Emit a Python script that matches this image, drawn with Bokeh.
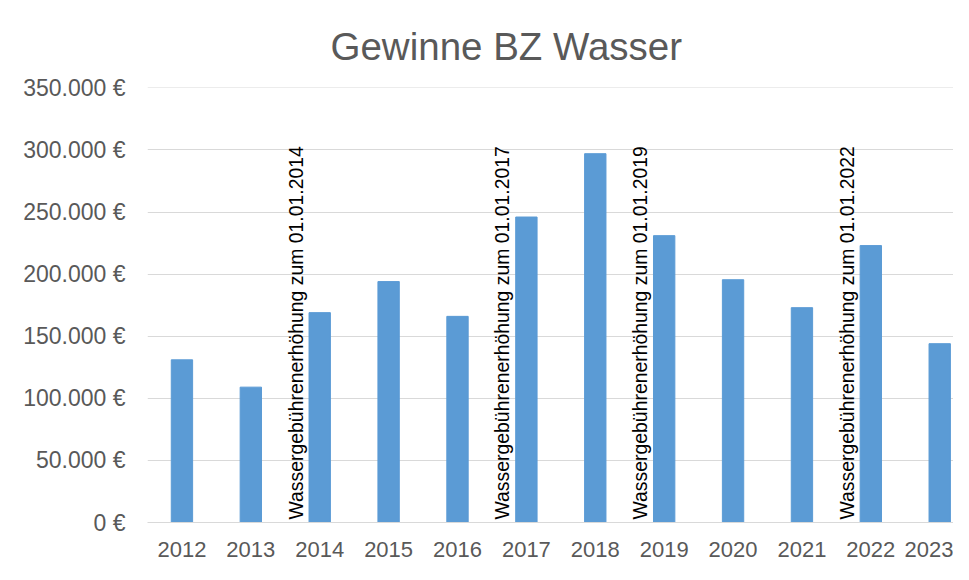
from bokeh.plotting import figure
from bokeh.models import FixedTicker, Range1d, ColumnDataSource
from bokeh.embed import file_html
from bokeh.resources import INLINE
from bokeh.core.properties import value

# ---- data ----
years = [2012, 2013, 2014, 2015, 2016, 2017, 2018, 2019, 2020, 2021, 2022, 2023]
profits = [131000, 109000, 169000, 194000, 166000, 246000, 297000, 231000, 195500, 173000, 223000, 144000]
note_years = [2014, 2017, 2019, 2022]
note_texts = ["Wassergebührenerhöhung zum 01.01.%d" % y for y in note_years]
y_ticks = [0, 50000, 100000, 150000, 200000, 250000, 300000, 350000]
title_text = "Gewinne BZ Wasser"

FONT = "Liberation Sans"

p = figure(width=953, height=564, output_backend="svg", toolbar_location=None,
           x_range=Range1d(years[0] - 0.5, years[-1] + 0.2),
           y_range=Range1d(0, 350300),
           min_border_left=147, min_border_right=0, min_border_top=87, min_border_bottom=42)

p.title.text = title_text
p.title.text_font = FONT
p.title.text_font_size = "38.5px"
p.title.text_font_style = "normal"
p.title.text_color = "#595959"
p.title.align = "left"
p.title.offset = 183
p.title.standoff = 40

p.outline_line_color = None
p.background_fill_color = "white"
p.border_fill_color = "white"

src = ColumnDataSource(dict(x=years, top=profits))
p.vbar(x="x", top="top", width=0.31, bottom=0, source=src,
       fill_color="#5B9BD5", line_color="#5B9BD5", line_width=1)

nsrc = ColumnDataSource(dict(x=[y - 0.35 for y in note_years], y=[0] * len(note_years), t=note_texts))
p.text(x="x", y="y", text="t", source=nsrc, angle=1.5707963, text_align="left",
       text_baseline="middle", text_font=value(FONT), text_font_size="19.4px",
       text_color="#000000", y_offset=-3)

# axes
p.xaxis.ticker = FixedTicker(ticks=years)
p.xaxis.major_label_overrides = {y: str(y) for y in years}
p.xaxis.major_tick_line_color = None
p.xaxis.minor_tick_line_color = None
p.xaxis.axis_line_color = "#D9D9D9"
p.xaxis.axis_line_width = 1
p.xaxis.major_label_text_font = FONT
p.xaxis.major_label_text_font_size = "22px"
p.xaxis.major_label_text_color = "#595959"
p.xaxis.major_label_standoff = 13

p.yaxis.ticker = FixedTicker(ticks=y_ticks)
p.yaxis.major_label_overrides = {v: "{:,}".format(v).replace(",", ".") + " €" for v in y_ticks}
p.yaxis.major_tick_line_color = None
p.yaxis.minor_tick_line_color = None
p.yaxis.axis_line_color = None
p.yaxis.major_label_text_font = FONT
p.yaxis.major_label_text_font_size = "23px"
p.yaxis.major_label_text_color = "#595959"
p.yaxis.major_label_standoff = 16

p.xgrid.grid_line_color = None
p.ygrid.ticker = FixedTicker(ticks=y_ticks)
p.ygrid.grid_line_color = "#D9D9D9"
p.ygrid.grid_line_width = 1

open("out.html", "w").write(file_html(p, INLINE))
